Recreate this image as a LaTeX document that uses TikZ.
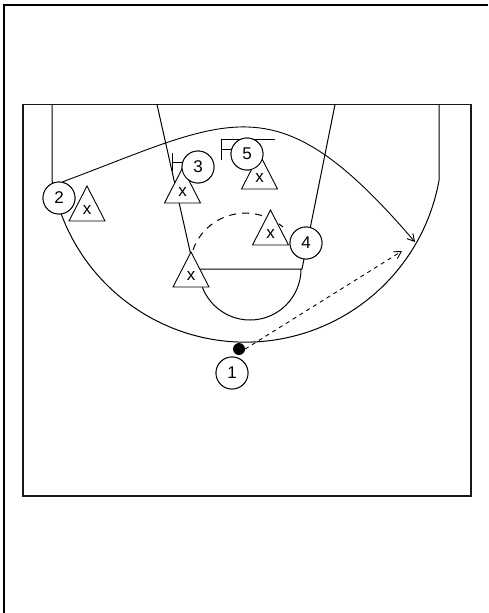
\documentclass[tikz,border=0pt]{standalone}
\usepackage{fontspec}
\setmainfont{Liberation Sans}
\usetikzlibrary{arrows.meta}
\tikzset{
  court/.style={line width=1pt, draw=black},
  player/.style={circle, draw, line width=0.9pt, fill=white, minimum size=32pt, inner sep=0pt, font=\fontsize{17}{17}\selectfont},
  dtext/.style={inner sep=0pt, font=\fontsize{17}{17}\selectfont},
  defshape/.style={draw, line width=0.9pt, fill=white},
  movepath/.style={line width=0.9pt},
  passpath/.style={line width=0.9pt, dash pattern=on 4pt off 4pt},
  slidepath/.style={line width=1pt, dash pattern=on 7pt off 6pt},
  tip/.style={-{Straight Barb[length=7pt,width=8pt]}}
}
\newcommand\Defender[3]{%
  \draw[defshape] (#2-18,#3) -- (#2,#3-35) -- (#2+18,#3) -- cycle;
  \node[dtext] (#1) at (#2,#3-11) {x};
  \coordinate (#1top) at (#2,#3-35);
}
\begin{document}
\begin{tikzpicture}[x=1pt,y=-1pt]
\useasboundingbox (0,0) rectangle (488,613);
% outer frame
\draw[line width=2pt] (4,613) -- (4,5) -- (488,5);
% court
\draw[line width=1.4pt, draw=black!90] (23,104.5) rectangle (471,496);
\draw[court] (52,104.5) -- (52,180) arc[start angle=169.9, end angle=10.1, radius=196.6] -- (439,104.5);
\coordinate (laneTL) at (157,104.5);
\coordinate (laneBL) at (194,269);
\coordinate (laneTR) at (335,104.5);
\coordinate (laneBR) at (302,269);
\draw[court] (laneTL) -- (laneBL) -- (laneBR) -- (laneTR);
\draw[court] (199,269) arc[start angle=180, end angle=0, radius=51];
% players (placed first so connectors can use them)
\node[player] (p1) at (232,373) {1};
\node[player] (p2) at (59,198) {2};
\node[player] (p3) at (198,167) {3};
\node[player] (p4) at (306,243) {4};
\node[player] (p5) at (247,154) {5};
\node[circle, fill=black, minimum size=12pt, inner sep=0pt] (ball) at (239,349) {};
% movement of 2
\coordinate (cut2) at (415,242);
\draw[movepath, tip] (p2.78) .. controls (233,118) and (276,80) .. (cut2);
% pass
\coordinate (passend) at (402,251);
\draw[passpath, tip] (ball.east) -- (passend);
% screens
\coordinate (scr3a) at (172,153);
\coordinate (scr3b) at (172,171);
\coordinate (scr3c) at (172,162);
\draw[movepath] (scr3a) -- (scr3b);
\draw[movepath] (scr3c) -- (p3.west |- scr3c);
\coordinate (scr5a) at (221,139);
\coordinate (scr5b) at (221,160);
\coordinate (scr5c) at (221,149);
\coordinate (scr5d) at (275,139);
\draw[movepath] (scr5b) -- (scr5a) -- (scr5d);
\draw[movepath] (scr5c) -- (240,149);
% defender slide
\coordinate (slideend) at (283,227);
\draw[slidepath] (193,250) .. controls (205,215) and (250,200) .. (slideend);
% defenders
\Defender{d2}{87}{221}
\Defender{d3}{182.5}{203}
\Defender{d5}{259.5}{189}
\Defender{d4}{270.5}{245}
\Defender{dl}{191}{287}
% redraw players on top
\node[player] at (p1) {1};
\node[player] at (p2) {2};
\node[player] at (p3) {3};
\node[player] at (p4) {4};
\node[player] at (p5) {5};
\end{tikzpicture}
\end{document}
